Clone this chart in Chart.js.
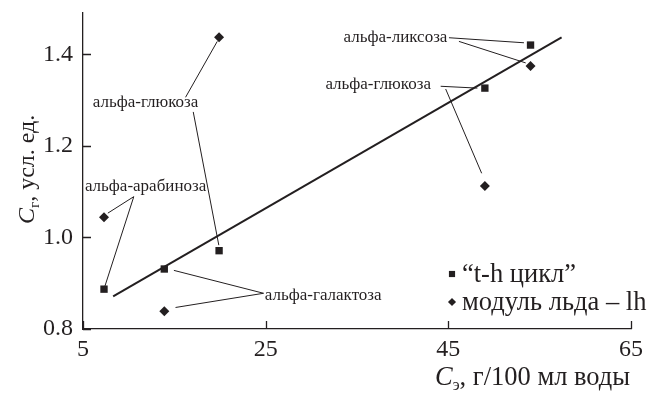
<!DOCTYPE html>
<html>
<head>
<meta charset="utf-8">
<script src="https://cdn.jsdelivr.net/npm/chart.js@4/dist/chart.umd.min.js"></script>
<style>
    html, body { margin: 0; padding: 0; background: #fff; }
    #wrap { position: relative; width: 652px; height: 393px; }
</style>
</head>
<body>
<div id="wrap"><canvas id="chart"></canvas></div>
<script>
// --- данные ---
const xTicks = [5, 25, 45, 65];
const yTicks = [0.8, 1.0, 1.2, 1.4];

const sugarX = [7.3, 13.9, 19.9, 49.0, 54.0];
const cycleY = [0.887, 0.931, 0.971, 1.326, 1.420];   // "t-h цикл"
const iceY = [1.044, 0.839, 1.437, 1.112, 1.374];     // модуль льда - lh

const fitX = [8.3, 57.4];
const fitY = [0.871, 1.437];

const seriesNames = ['“t-h цикл”', 'модуль льда – lh'];

// подписи: текст, точка привязки (в единицах осей), выравнивание
const noteText = ['альфа-глюкоза', 'альфа-арабиноза', 'альфа-галактоза', 'альфа-ликсоза', 'альфа-глюкоза'];
const noteX = [11.85, 11.85, 24.9, 44.9, 43.1];
const noteY = [1.294, 1.110, 0.874, 1.436, 1.334];
const noteAlign = ['center', 'center', 'left', 'right', 'right'];

// выноски (ломаные в единицах осей)
const leaders = [
    [[16.23, 1.306], [19.70, 1.428]],
    [[17.07, 1.274], [19.87, 0.983]],
    [[7.72, 1.053], [10.56, 1.089], [7.39, 0.893]],
    [[14.95, 0.928], [24.77, 0.878], [15.13, 0.847]],
    [[45.07, 1.436], [53.28, 1.425]],
    [[46.16, 1.428], [53.47, 1.381]],
    [[44.16, 1.330], [48.18, 1.326]],
    [[44.71, 1.324], [48.65, 1.140]]
];

const INK = '#231f20';
const SERIF = '"Liberation Serif", "DejaVu Serif", serif';

const pts = (xs, ys) => xs.map((x, i) => ({ x: x, y: ys[i] }));

const datasets = [
    {
        label: 'fit', data: pts(fitX, fitY), showLine: true,
        borderColor: INK, borderWidth: 2, pointRadius: 0, fill: false
    },
    ...leaders.map(l => ({
        label: 'leader', data: l.map(p => ({ x: p[0], y: p[1] })), showLine: true,
        borderColor: INK, borderWidth: 1, pointRadius: 0, fill: false
    })),
    {
        label: seriesNames[0], data: pts(sugarX, cycleY), pointStyle: 'rect',
        pointRadius: 5.2, backgroundColor: INK, borderColor: INK, borderWidth: 0
    },
    {
        label: seriesNames[1], data: pts(sugarX, iceY), pointStyle: 'rectRot',
        pointRadius: 5, backgroundColor: INK, borderColor: INK, borderWidth: 0
    }
];

function drawSubTitle(ctx, x, y, size, main, sub, rest) {
    ctx.font = 'italic ' + size + 'px ' + SERIF;
    ctx.fillText(main, x, y);
    x += ctx.measureText(main).width;
    ctx.font = Math.round(size * 0.62) + 'px ' + SERIF;
    ctx.fillText(sub, x, y + 5);
    x += ctx.measureText(sub).width;
    ctx.font = size + 'px ' + SERIF;
    ctx.fillText(rest, x, y);
}

const extras = {
    id: 'extras',
    afterDraw(chart) {
        const { ctx, chartArea: a, scales: { x, y } } = chart;
        ctx.save();
        ctx.strokeStyle = INK;
        ctx.lineWidth = 1.3;
        ctx.beginPath();
        xTicks.forEach(v => {
            const px = Math.round(x.getPixelForValue(v)) + 0.5;
            ctx.moveTo(px, a.bottom); ctx.lineTo(px, a.bottom - 8);
        });
        yTicks.forEach(v => {
            const py = Math.round(y.getPixelForValue(v)) + 0.5;
            ctx.moveTo(a.left, py); ctx.lineTo(a.left + 8, py);
        });
        ctx.stroke();

        // подписи сахаров
        ctx.fillStyle = INK;
        ctx.font = '17px ' + SERIF;
        ctx.textBaseline = 'middle';
        noteText.forEach((t, i) => {
            ctx.textAlign = noteAlign[i];
            ctx.fillText(t, x.getPixelForValue(noteX[i]), y.getPixelForValue(noteY[i]));
        });

        // легенда
        ctx.textAlign = 'left';
        ctx.font = '26.5px ' + SERIF;
        const sets = chart.data.datasets.filter(d => seriesNames.includes(d.label));
        sets.forEach((d, i) => {
            const ly = 274 + i * 28;
            const r = d.pointStyle === 'rect' ? 4.3 : 3.8;
            Chart.helpers.drawPoint(ctx, { pointStyle: d.pointStyle, radius: r, borderWidth: 0 }, 452, ly);
            ctx.fill();
            ctx.fillText(d.label, 462, ly + 1);
        });

        // подписи осей
        ctx.textBaseline = 'alphabetic';
        drawSubTitle(ctx, 435, 385, 26.5, 'C', 'э', ', г/100 мл воды');
        ctx.translate(34, 224);
        ctx.rotate(-Math.PI / 2);
        drawSubTitle(ctx, 0, 0, 24, 'C', 'г', ', усл. ед.');
        ctx.restore();
    }
};

new Chart(document.getElementById('chart'), {
    type: 'scatter',
    data: { datasets: datasets },
    options: {
        responsive: true, maintainAspectRatio: false, animation: false,
        layout: { padding: { top: 13, right: 21, left: 0, bottom: 0 } },
        plugins: { legend: { display: false }, tooltip: { enabled: false } },
        scales: {
            x: {
                type: 'linear', min: 5, max: 65,
                afterFit: s => { s.height = 64; s.paddingLeft = 0; s.paddingRight = 0; },
                afterBuildTicks: s => { s.ticks = xTicks.map(v => ({ value: v })); },
                grid: { display: false, drawTicks: false },
                border: { display: true, color: INK, width: 1.3 },
                ticks: { color: INK, padding: 6, font: { family: SERIF, size: 24 } }
            },
            y: {
                type: 'linear', min: 0.8, max: 1.49,
                afterFit: s => { s.width = 83; s.paddingTop = 0; s.paddingBottom = 0; },
                afterBuildTicks: s => { s.ticks = yTicks.map(v => ({ value: v })); },
                grid: { display: false, drawTicks: false },
                border: { display: true, color: INK, width: 1.3 },
                ticks: { color: INK, padding: 10, font: { family: SERIF, size: 24 }, callback: v => v.toFixed(1) }
            }
        }
    },
    plugins: [extras]
});
</script>
</body>
</html>
